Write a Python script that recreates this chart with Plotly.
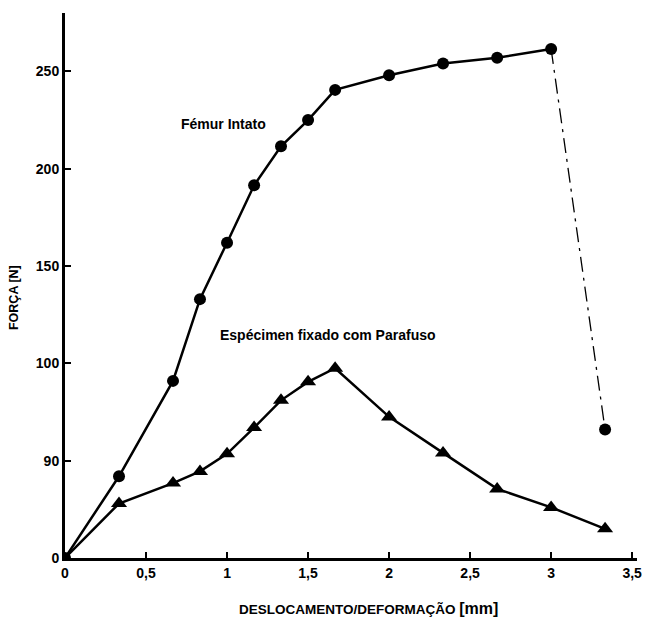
import plotly.graph_objects as go

# Data
femur_x = [0, 1/3, 2/3, 0.833, 1.0, 1.167, 1.333, 1.5, 1.667, 2.0, 2.333, 2.667, 3.0]
femur_y = [0, 42, 91, 133, 162, 191.5, 211.5, 225, 240.5, 248, 254, 257, 261.5]
fail_x = [3.0, 3.333]
fail_y = [261.5, 66]

paraf_x = [0, 1/3, 2/3, 0.833, 1.0, 1.167, 1.333, 1.5, 1.667, 2.0, 2.333, 2.667, 3.0, 3.333]
paraf_y = [0, 28, 38.5, 44.5, 53.5, 67, 81, 90.5, 97.5, 72.5, 54, 35.5, 26, 15]

y_tickvals = [0, 50, 100, 150, 200, 250]
y_ticktext = ["0", "90", "100", "150", "200", "250"]
x_tickvals = [0, 0.5, 1, 1.5, 2, 2.5, 3, 3.5]
x_ticktext = ["0", "0,5", "1", "1,5", "2", "2,5", "3", "3,5"]

font_main = "Liberation Sans, Arial, sans-serif"

fig = go.Figure()
fig.add_trace(go.Scatter(x=fail_x, y=fail_y, mode="lines",
                         line=dict(color="black", width=1.3, dash="longdashdot"),
                         showlegend=False))
fig.add_trace(go.Scatter(x=fail_x[1:], y=fail_y[1:], mode="markers",
                         marker=dict(symbol="circle", size=12, color="black"),
                         showlegend=False))
fig.add_trace(go.Scatter(x=femur_x, y=femur_y, mode="lines+markers",
                         line=dict(color="black", width=2.5),
                         marker=dict(symbol="circle", size=12, color="black"),
                         showlegend=False))
fig.add_trace(go.Scatter(x=paraf_x[1:], y=paraf_y[1:], mode="markers",
                         marker=dict(symbol="triangle-up", size=14, color="black"),
                         showlegend=False))
fig.add_trace(go.Scatter(x=paraf_x, y=paraf_y, mode="lines",
                         line=dict(color="black", width=2.5),
                         showlegend=False))

fig.add_annotation(x=0.98, y=223, text="Fémur Intato", showarrow=False,
                   font=dict(family=font_main, size=14, color="black", weight="bold"))
fig.add_annotation(x=1.625, y=114.5, text="Espécimen fixado com Parafuso", showarrow=False,
                   font=dict(family=font_main, size=14, color="black", weight="bold"))

# axis titles as annotations for exact placement
fig.add_annotation(xref="paper", yref="paper", x=0.53, y=0, yshift=-50,
                   xanchor="center", yanchor="middle", showarrow=False,
                   text="DESLOCAMENTO/DEFORMAÇÃO <span style='font-size:16px'>[mm]</span>",
                   font=dict(family=font_main, size=13.5, color="black", weight="bold"))
fig.add_annotation(xref="paper", yref="paper", x=0, xshift=-51, y=0.477,
                   xanchor="center", yanchor="middle", showarrow=False, textangle=-90,
                   text="FORÇA [N]",
                   font=dict(family=font_main, size=12.5, color="black", weight="bold"))

fig.update_layout(
    width=648, height=624,
    margin=dict(l=65, r=11, t=13, b=66, autoexpand=False),
    plot_bgcolor="white", paper_bgcolor="white",
    font=dict(family=font_main, color="black"),
    hovermode=False,
    xaxis=dict(range=[0, 3.53], tickvals=x_tickvals, ticktext=x_ticktext,
               showgrid=False, zeroline=False, showline=True, linecolor="black",
               linewidth=3, ticks="inside", ticklen=6, tickwidth=2, tickcolor="black",
               automargin=False,
               tickfont=dict(size=14, family=font_main, weight="bold", color="black")),
    yaxis=dict(range=[0, 280], tickvals=y_tickvals, ticktext=y_ticktext,
               showgrid=False, zeroline=False, showline=True, linecolor="black",
               linewidth=3, ticks="inside", ticklen=6, tickwidth=2, tickcolor="black",
               automargin=False,
               tickfont=dict(size=14, family=font_main, weight="bold", color="black")),
)

# remove the browser's default body margin so the figure fills the window exactly
fig.write_html("out.html",
               config={"displayModeBar": False},
               post_script="document.body.style.margin='0px';document.body.style.overflow='hidden';")
